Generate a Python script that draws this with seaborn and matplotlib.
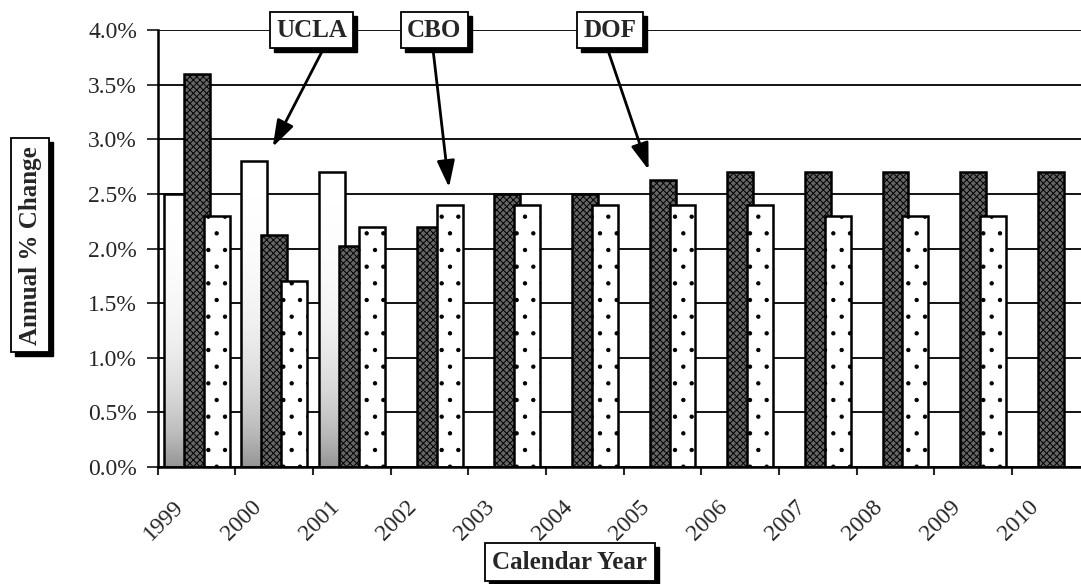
import matplotlib
matplotlib.use("Agg")
import matplotlib.pyplot as plt
import matplotlib.transforms as mtransforms
from matplotlib.patches import Rectangle
import numpy as np
import pandas as pd
import seaborn as sns

years = [str(y) for y in range(1999, 2011)]
ucla = [2.5, 2.8, 2.7]
cbo = [3.6, 2.12, 2.02, 2.2, 2.5, 2.5, 2.63, 2.7, 2.7, 2.7, 2.7, 2.7]
dof = [2.3, 1.7, 2.2, 2.4, 2.4, 2.4, 2.4, 2.4, 2.3, 2.3, 2.3]
sources = ["UCLA", "CBO", "DOF"]

rows = []
for name, vals in zip(sources, [ucla, cbo, dof]):
    for yr, v in zip(years, vals):
        rows.append({"Year": yr, "Source": name, "Value": v})
df = pd.DataFrame(rows)

sns.set_theme(style="white")
plt.rcParams["font.family"] = ["Liberation Serif", "DejaVu Serif"]
plt.rcParams["hatch.linewidth"] = 0.7

fig = plt.figure(figsize=(10.81, 5.84), dpi=100)
# plot area runs slightly past the right edge of the picture, as in the scan
ax = fig.add_axes([0.146, 0.2003, 0.862, 0.7483])

palette = {"UCLA": "white", "CBO": "#666666", "DOF": "white"}
sns.barplot(data=df, x="Year", y="Value", hue="Source", order=years,
            hue_order=sources, palette=palette, width=0.77, saturation=1,
            edgecolor="black", linewidth=1.8, legend=False, ax=ax)

# Excel-style overlap: widen each bar about its centre, later series on top
hatches = {"UCLA": "", "CBO": "xxxxx", "DOF": "."}
bar_w = 0.334
for i, (cont, name) in enumerate(zip(ax.containers, sources)):
    for bar in cont:
        w = bar.get_width()
        bar.set_x(bar.get_x() - (bar_w - w) / 2)
        bar.set_width(bar_w)
        bar.set_hatch(hatches[name])
        bar.set_zorder(1 + 0.1 * i)

# UCLA bars: white at the top fading to grey at the base
shade = (0.5 * np.linspace(0, 1, 120) ** 2.2).reshape(-1, 1)
for bar in ax.containers[0]:
    x0, w, h = bar.get_x(), bar.get_width(), bar.get_height()
    if not np.isfinite(h) or h == 0:
        continue
    bar.set_facecolor("none")
    im = ax.imshow(shade, extent=[x0, x0 + w, 0, h], cmap="Greys", vmin=0, vmax=1,
                   aspect="auto", origin="upper", zorder=0.8, interpolation="bilinear")
    im.set_clip_path(bar)

ax.set_xlim(-0.5, 11.5)
ax.set_ylim(0, 4.0)
ax.set_aspect("auto")
ax.set_yticks(np.arange(0, 4.01, 0.5))
ax.set_yticklabels([f"{v:.1f}%" for v in np.arange(0, 4.01, 0.5)], fontsize=17)
ax.yaxis.grid(True, color="black", linewidth=1.3)
ax.set_axisbelow(True)

# labels sit left of the category centre, tick marks on category boundaries
ax.set_xticks(np.arange(-0.5, 12, 1), minor=True)
ax.set_xticks(np.arange(len(years)) - 0.3)
ax.set_xticklabels(years, rotation=45, ha="right", rotation_mode="anchor", fontsize=17)
ax.tick_params(axis="x", which="major", length=0, pad=21)
ax.tick_params(axis="x", which="minor", length=6, width=1.5, direction="out", bottom=True)
ax.tick_params(axis="y", length=8, width=1.3, direction="out", left=True, pad=7)

for s in ["top", "right"]:
    ax.spines[s].set_visible(False)
for s in ["left", "bottom"]:
    ax.spines[s].set_color("black")
    ax.spines[s].set_linewidth(1.8)
ax.set_xlabel("")
ax.set_ylabel("")

box = dict(boxstyle="square,pad=0.25", fc="white", ec="black", lw=1.3)
boxed = []

callouts = [("UCLA", (1.48, 4.0), (0.98, 2.93), 0.72),
            ("CBO", (3.06, 4.0), (3.25, 2.56), 0.46),
            ("DOF", (5.32, 4.0), (5.82, 2.72), 0.41)]
for label, (bx, by), tip, rel in callouts:
    t = ax.annotate(label, xy=tip, xytext=(bx, by), textcoords="data",
                    fontsize=18, fontweight="bold", ha="center", va="center",
                    bbox=box, zorder=10, annotation_clip=False,
                    arrowprops=dict(arrowstyle="-|>,head_length=0.9,head_width=0.3",
                                    color="black", lw=2, shrinkA=0, shrinkB=0,
                                    relpos=(rel, 0)))
    boxed.append((t, ax))

box2 = dict(boxstyle="square,pad=0.3", fc="white", ec="black", lw=1.3)
for txt, x, y, rot in [("Annual % Change", 0.0278, 0.58, 90),
                       ("Calendar Year", 0.527, 0.037, 0)]:
    t = fig.text(x, y, txt, fontsize=18, fontweight="bold", rotation=rot,
                 ha="center", va="center", bbox=box2, zorder=3)
    boxed.append((t, fig))

# drop shadows behind the label boxes
fig.canvas.draw()
for t, parent in boxed:
    bb = t.get_bbox_patch().get_window_extent()
    shadow = Rectangle((bb.x0 + 4, bb.y0 - 4), bb.width, bb.height,
                       transform=mtransforms.IdentityTransform(),
                       fc="black", ec="black", zorder=t.get_zorder() - 0.5,
                       clip_on=False)
    parent.add_artist(shadow)

fig.savefig("out.png", dpi=100)
